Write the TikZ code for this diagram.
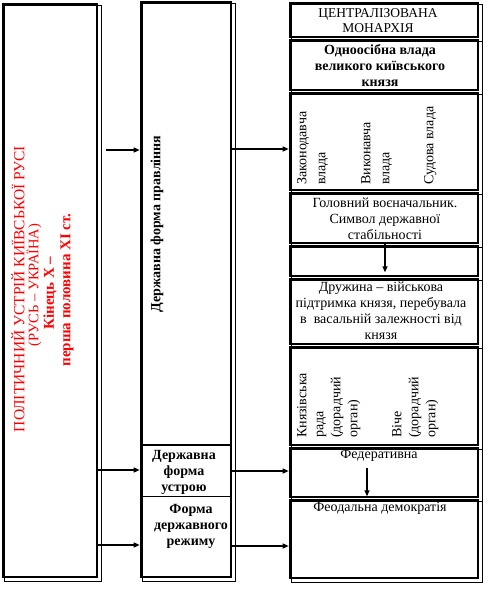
\documentclass[tikz,border=0pt]{standalone}
\usepackage{fontspec}
\setmainfont{Liberation Serif}
\usetikzlibrary{fit,arrows.meta}
\definecolor{tred}{RGB}{255,0,0}
\newcommand\mybox[5]{%
  \node[box, fit={(#2,#3) (#4,#5)}] (#1) {};
  \draw[shadowline] ([shift={(3,3)}]#1.north west) rectangle ([shift={(3,3)}]#1.south east);
}
\begin{document}
\begin{tikzpicture}[x=1pt,y=-1pt,
  box/.style={draw, line width=2.6pt, inner sep=0pt},
  shadowline/.style={draw, line width=0.7pt},
  divthick/.style={line width=2.6pt},
  divthin/.style={line width=0.8pt},
  arr/.style={-{Triangle[length=6pt,width=5pt]}, line width=1.3pt},
  txt/.style={font=\fontsize{14}{16}\selectfont, align=center, inner sep=0pt},
  btxt/.style={font=\bfseries\fontsize{14}{16}\selectfont, align=center, inner sep=0pt},
  rtxt/.style={font=\fontsize{15.5}{17}\selectfont, text=tred, inner sep=0pt, rotate=90},
  rbtxt/.style={font=\bfseries\fontsize{15}{17}\selectfont, text=tred, inner sep=0pt, rotate=90},
  vtxt/.style={font=\fontsize{14}{16}\selectfont, align=left, inner sep=0pt, rotate=90, anchor=north west},
]
\useasboundingbox (0,0) rectangle (493,595);

% left column
\mybox{L}{3}{4}{97}{577}
\node[rtxt]  (l1) at (18,289) {ПОЛІТИЧНИЙ УСТРІЙ КИЇВСЬКОЇ РУСІ};
\node[rtxt, font=\fontsize{14.5}{17}\selectfont] (l2) at (34,285) {(РУСЬ – УКРАЇНА)};
\node[rbtxt] (l3) at (50,293) {Кінець Х –};
\node[rbtxt] (l4) at (67,290) {перша половина ХІ ст.};

% middle column
\mybox{M}{141}{2}{231}{577}
\draw[divthick] (141,445) -- (231,445);
\draw[divthin] (141,496) -- (231,496);
\node[btxt, rotate=90] (m1) at (157,224) {Державна форма правління};
\node[btxt] (m2) at (184,472) {Державна\\форма\\устрою};
\node[btxt] (m3) at (191,526) {Форма\\державного\\режиму};

% right column
\mybox{R1}{290}{3}{478}{37}
\mybox{R2}{290}{40}{478}{90}
\mybox{R3}{290}{93}{478}{190}
\mybox{R4}{290}{193}{478}{243}
\mybox{R5}{290}{246}{478}{276}
\mybox{R6}{290}{279}{478}{344}
\mybox{R7}{290}{347}{478}{445}
\mybox{R8}{290}{448}{478}{497}
\mybox{R9}{290}{500}{478}{578}

\node[txt, font=\fontsize{13.5}{15.5}\selectfont] (r1) at (378,20.5) {ЦЕНТРАЛІЗОВАНА\\МОНАРХІЯ};
\node[btxt] (r2) at (380,66) {Одноосібна влада\\великого київського\\князя};
\node[vtxt] (r3a) at (297,185) {Законодавча\\[3pt]влада};
\node[vtxt] (r3b) at (361,185) {Виконавча\\[3pt]влада};
\node[vtxt] (r3c) at (424,185) {Судова влада};
\node[txt] (r4) at (385,219) {Головний воєначальник.\\Символ державної\\стабільності};
\node[txt] (r6) at (381,311) {Дружина – військова\\підтримка князя, перебувала\\в\ \ васальній залежності від\\князя};
\node[vtxt] (r7a) at (297,438) {Князівська\\[1pt]рада\\[1pt](дорадчий\\[1pt]орган)};
\node[vtxt] (r7b) at (392,438) {Віче\\[1pt](дорадчий\\[1pt]орган)};
\node[txt] (r8) at (379,455) {Федеративна};
\node[txt] (r9) at (380,508) {Феодальна демократія};

% connectors
\coordinate (a1) at (106,150);
\coordinate (a2) at (0,470);
\coordinate (a3) at (0,545);
\draw[arr] (a1) -- (M.west |- a1);
\draw[arr] (L.east |- a2) -- (M.west |- a2);
\draw[arr] (L.east |- a3) -- (M.west |- a3);
\coordinate (b1) at (0,149);
\coordinate (b2) at (0,471);
\coordinate (b3) at (0,546);
\draw[arr] (M.east |- b1) -- (R3.west |- b1);
\draw[arr] (M.east |- b2) -- (R8.west |- b2);
\draw[arr] (M.east |- b3) -- (R9.west |- b3);
\coordinate (v1) at (385,0);
\draw[arr, shorten >=5pt] (v1 |- R4.south) -- (v1 |- R5.south);
\coordinate (v2) at (367,468);
\draw[arr, shorten >=2pt] (v2) -- (v2 |- R8.south);
\end{tikzpicture}
\end{document}
